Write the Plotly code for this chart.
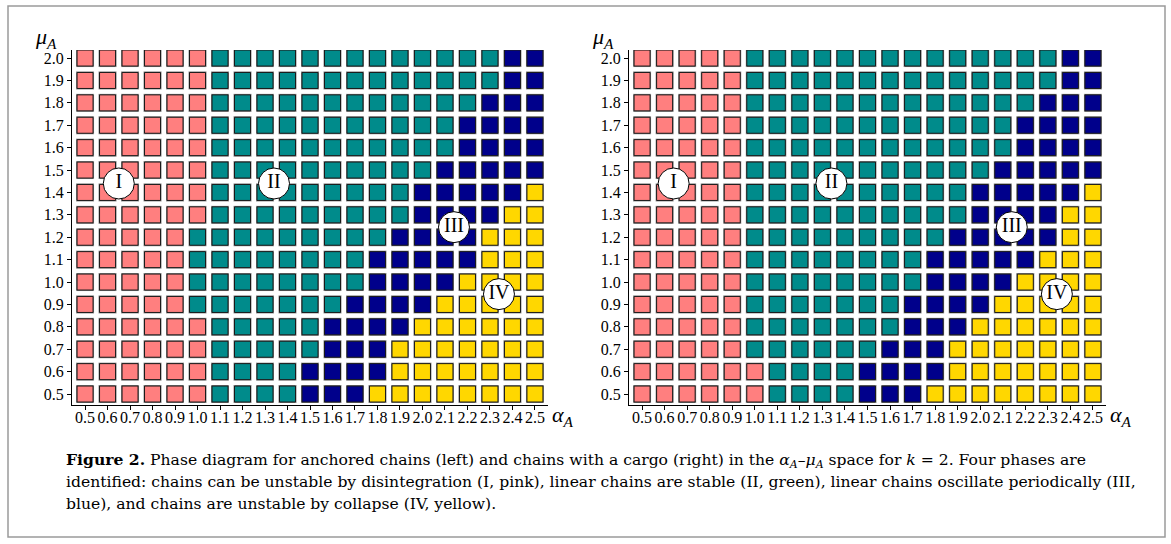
import plotly.graph_objects as go

W, H = 1171, 544

# Parameter grid (values in tenths to keep comparisons exact)
alpha_tenths = list(range(5, 26))          # alpha_A = 0.5 ... 2.5
mu_tenths = list(range(5, 21))             # mu_A = 0.5 ... 2.0

# Phase boundaries per row of mu_A (bottom to top): last alpha (in tenths)
# belonging to phase I, II and III; everything beyond is phase IV.
anchored_pink_last = [10, 10, 10, 10, 9, 9, 9, 9, 10, 10, 10, 10, 10, 10, 10, 10]
anchored_green_last = [14, 14, 15, 15, 16, 17, 17, 18, 19, 19, 20, 21, 21, 22, 23, 23]
anchored_blue_last = [17, 18, 18, 19, 20, 21, 22, 22, 23, 24, 25, 25, 25, 25, 25, 25]

cargo_pink_last = [10, 10, 9, 9, 9, 9, 9, 9, 9, 9, 9, 9, 9, 9, 9, 9]
cargo_green_last = [14, 14, 15, 16, 16, 17, 17, 18, 19, 19, 20, 21, 21, 22, 23, 23]
cargo_blue_last = [17, 18, 18, 19, 20, 21, 22, 23, 23, 24, 25, 25, 25, 25, 25, 25]

phase_colors = {"I": "#FF7F7F", "II": "#008B8B", "III": "#00008B", "IV": "#FFD700"}

# Region labels: (alpha, mu) positions of the roman numerals
region_names = ["I", "II", "III", "IV"]
anchored_label_alpha = [0.65, 1.34, 2.14, 2.34]
anchored_label_mu = [1.44, 1.44, 1.245, 0.946]
cargo_label_alpha = [0.64, 1.34, 2.14, 2.34]
cargo_label_mu = [1.44, 1.44, 1.245, 0.946]

SERIF = "Liberation Serif, Times New Roman, serif"
CAPTION_FONT = "DejaVu Serif, serif"


def classify(pink_last, green_last, blue_last):
    xs, ys, cs = [], [], []
    for r, m in enumerate(mu_tenths):
        for a in alpha_tenths:
            if a <= pink_last[r]:
                ph = "I"
            elif a <= green_last[r]:
                ph = "II"
            elif a <= blue_last[r]:
                ph = "III"
            else:
                ph = "IV"
            xs.append(a / 10)
            ys.append(m / 10)
            cs.append(phase_colors[ph])
    return xs, ys, cs


fig = go.Figure()

panels = [
    ("x", "y", classify(anchored_pink_last, anchored_green_last, anchored_blue_last),
     anchored_label_alpha, anchored_label_mu),
    ("x2", "y2", classify(cargo_pink_last, cargo_green_last, cargo_blue_last),
     cargo_label_alpha, cargo_label_mu),
]

for xa, ya, (xs, ys, cs), la, lm in panels:
    # soft grey halo under each cell
    fig.add_trace(go.Scatter(
        x=xs, y=ys, mode="markers", xaxis=xa, yaxis=ya, hoverinfo="skip",
        marker=dict(symbol="square", size=18, color="#8a8a8a", line=dict(width=0)),
        showlegend=False))
    fig.add_trace(go.Scatter(
        x=xs, y=ys, mode="markers", xaxis=xa, yaxis=ya,
        marker=dict(symbol="square", size=16, color=cs,
                    line=dict(width=1, color="#1a1a1a")),
        showlegend=False))
    fig.add_trace(go.Scatter(
        x=la, y=lm, mode="markers+text", xaxis=xa, yaxis=ya, text=region_names,
        textposition="middle center",
        textfont=dict(family=SERIF, size=20, color="black"),
        marker=dict(symbol="circle", size=31, color="white",
                    line=dict(width=1, color="black")),
        showlegend=False, hoverinfo="skip"))

x_range = [0.442, 2.558]
y_range = [0.451, 2.036]
y_dom = [1 - 405 / H, 1 - 50 / H]

axis_common = dict(showgrid=False, zeroline=False, showline=True, linecolor="black",
                   linewidth=1, ticks="outside", ticklen=4, tickcolor="black",
                   tickangle=0,
                   tickfont=dict(family=SERIF, size=16, color="black"))
x_ticks = dict(tickvals=[a / 10 for a in alpha_tenths], tickformat=".1f",
               ticklabelstandoff=-6, **axis_common)
y_ticks = dict(tickvals=[m / 10 for m in mu_tenths], tickformat=".1f", **axis_common)

fig.update_layout(
    width=W, height=H,
    margin=dict(l=0, r=0, t=0, b=0),
    font=dict(family=SERIF, color="black"),
    paper_bgcolor="white", plot_bgcolor="white",
    xaxis=dict(domain=[72 / W, 548 / W], range=x_range, anchor="y", **x_ticks),
    yaxis=dict(domain=y_dom, range=y_range, anchor="x", **y_ticks),
    xaxis2=dict(domain=[629 / W, 1106 / W], range=x_range, anchor="y2", **x_ticks),
    yaxis2=dict(domain=y_dom, range=y_range, anchor="x2", **y_ticks),
)

annotations = []
# axis titles
for x0 in (33, 590):
    annotations.append(dict(
        x=x0 / W, y=1 - 22 / H, xref="paper", yref="paper", xanchor="left", yanchor="top",
        text="<i>μ</i><sub><i>A</i></sub>", showarrow=False,
        font=dict(family=SERIF, size=22, color="black")))
for x0 in (550, 1108):
    annotations.append(dict(
        x=x0 / W, y=1 - 400 / H, xref="paper", yref="paper", xanchor="left", yanchor="top",
        text="<i>α</i><sub><i>A</i></sub>", showarrow=False,
        font=dict(family=SERIF, size=22, color="black")))

caption_lines = [
    "<b>Figure 2.</b> Phase diagram for anchored chains (left) and chains with a cargo (right) in the "
    "<i>α</i><sub><i>A</i></sub>–<i>μ</i><sub><i>A</i></sub> space for <i>k</i> = 2. Four phases are",
    "identified: chains can be unstable by disintegration (I, pink), linear chains are stable (II, green), "
    "linear chains oscillate periodically (III,",
    "blue), and chains are unstable by collapse (IV, yellow).",
]
for i, line in enumerate(caption_lines):
    annotations.append(dict(
        x=64 / W, y=1 - (460 + 22 * i) / H, xref="paper", yref="paper",
        xanchor="left", yanchor="middle", text=line, showarrow=False, align="left",
        font=dict(family=CAPTION_FONT, size=15.6, color="black")))

fig.update_layout(annotations=annotations)

# outer frame of the figure
fig.add_shape(type="rect", xref="paper", yref="paper",
              x0=8 / W, x1=1165 / W, y0=1 - 537 / H, y1=1 - 6 / H,
              line=dict(color="#9a9a9a", width=1.5), fillcolor="rgba(0,0,0,0)")

fig.write_html("out.html")
